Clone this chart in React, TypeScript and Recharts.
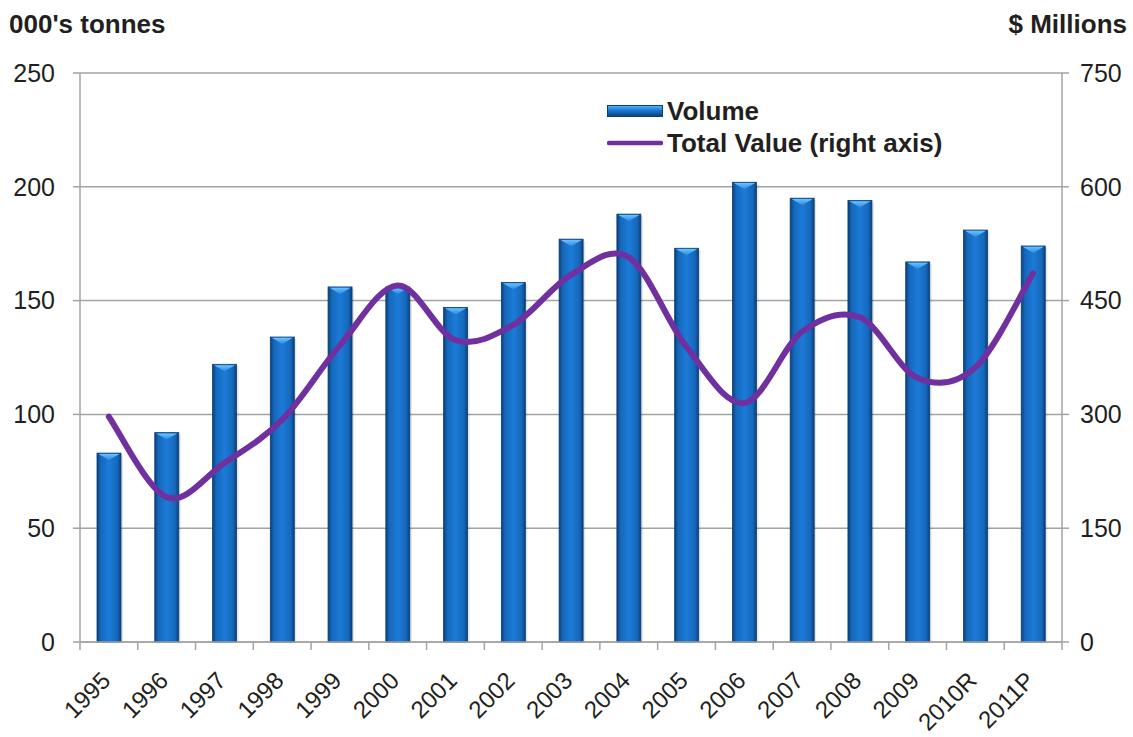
import React from 'react';
import { Bar, CartesianGrid, ComposedChart, Line, XAxis, YAxis } from 'recharts';

const years = ['1995', '1996', '1997', '1998', '1999', '2000', '2001', '2002', '2003', '2004', '2005', '2006', '2007', '2008', '2009', '2010R', '2011P'];
const volume = [83, 92, 122, 134, 156, 156, 147, 158, 177, 188, 173, 202, 195, 194, 167, 181, 174];
const totalValue = [297, 191, 236, 293, 391, 470, 398, 418, 484, 507, 389, 315, 409, 428, 348, 362, 486];
const leftTicks = [0, 50, 100, 150, 200, 250];
const rightTicks = [0, 150, 300, 450, 600, 750];

const data = years.map((year, i) => ({ year, volume: volume[i], value: totalValue[i] }));

const FONT = '"Liberation Sans", Arial, sans-serif';
const TEXT = '#231f20';
const GRID = '#a3a3a3';
const PURPLE = '#7030a0';

// Excel-like smoothed line (uniform Catmull-Rom through the points)
const excelSmooth = (ctx: any) => {
  let pts: number[][] = [];
  return {
    areaStart() {},
    areaEnd() {},
    lineStart() {
      pts = [];
    },
    point(x: number, y: number) {
      pts.push([+x, +y]);
    },
    lineEnd() {
      if (!pts.length) return;
      ctx.moveTo(pts[0][0], pts[0][1]);
      for (let i = 0; i < pts.length - 1; i++) {
        const p0 = pts[i - 1] ?? pts[i];
        const p1 = pts[i];
        const p2 = pts[i + 1];
        const p3 = pts[i + 2] ?? p2;
        ctx.bezierCurveTo(
          p1[0] + (p2[0] - p0[0]) / 6,
          p1[1] + (p2[1] - p0[1]) / 6,
          p2[0] - (p3[0] - p1[0]) / 6,
          p2[1] - (p3[1] - p1[1]) / 6,
          p2[0],
          p2[1],
        );
      }
    },
  };
};

const BevelBar = (props: any) => {
  const { x, y, width, height } = props;
  if (!height || height <= 0) return null;
  return (
    <g>
      <rect x={x + 2} y={y + 2} width={width} height={height - 2} fill="#000" opacity={0.1} />
      <rect x={x} y={y} width={width} height={height} fill="url(#barBody)" stroke="#0b3f78" strokeWidth={0.8} />
      <polygon
        points={`${x + 1.5},${y + 0.8} ${x + width - 1.5},${y + 0.8} ${x + width / 2},${y + 7}`}
        fill="url(#barTop)"
      />
    </g>
  );
};

const YearTick = (props: any) => {
  const { x, y, payload, index } = props;
  const half = payload.offset ?? 0;
  const ax = y - 8;
  const tx = x + 3;
  const ty = y + 32;
  return (
    <g>
      <line x1={x - half} x2={x - half} y1={ax} y2={ax + 8} stroke={GRID} strokeWidth={1.5} />
      {index === years.length - 1 && (
        <line x1={x + half} x2={x + half} y1={ax} y2={ax + 8} stroke={GRID} strokeWidth={1.5} />
      )}
      <text
        x={tx}
        y={ty}
        textAnchor="end"
        transform={`rotate(-45, ${tx}, ${ty})`}
        fontSize={24}
        fontFamily={FONT}
        fill={TEXT}
      >
        {payload.value}
      </text>
    </g>
  );
};

export default function App() {
  return (
    <div style={{ position: 'absolute', left: 0, top: 0, width: 1133, height: 737, background: '#fff', fontFamily: FONT }}>
      <div style={{ position: 'absolute', left: 9, top: 9, fontSize: 26, fontWeight: 'bold', color: TEXT }}>000's tonnes</div>
      <div style={{ position: 'absolute', right: 6, top: 9, fontSize: 26, fontWeight: 'bold', color: TEXT }}>$ Millions</div>

      <ComposedChart width={1133} height={737} data={data} margin={{ top: 73, right: 0, left: 0, bottom: 0 }}>
        <defs>
          <linearGradient id="barBody" x1="0" y1="0" x2="1" y2="0">
            <stop offset="0%" stopColor="#0a3f78" />
            <stop offset="15%" stopColor="#1568ba" />
            <stop offset="50%" stopColor="#1c7bd8" />
            <stop offset="85%" stopColor="#1568ba" />
            <stop offset="100%" stopColor="#0a3f78" />
          </linearGradient>
          <linearGradient id="barTop" x1="0" y1="0" x2="0" y2="1">
            <stop offset="0%" stopColor="#6cc2ff" />
            <stop offset="100%" stopColor="#2a8ae2" />
          </linearGradient>
        </defs>
        <CartesianGrid yAxisId="left" xAxisId="cat" vertical={false} stroke={GRID} strokeWidth={1.5} />
        <XAxis
          xAxisId="cat"
          dataKey="year"
          interval={0}
          height={95}
          tickSize={8}
          tickMargin={0}
          tickLine={false}
          axisLine={{ stroke: GRID, strokeWidth: 1.5 }}
          tick={<YearTick />}
        />
        <YAxis
          yAxisId="left"
          orientation="left"
          width={80}
          domain={[0, 250]}
          ticks={leftTicks}
          interval={0}
          tickSize={7}
          tickMargin={18}
          axisLine={{ stroke: GRID, strokeWidth: 1.5 }}
          tickLine={{ stroke: GRID, strokeWidth: 1.5 }}
          tick={{ fontSize: 25, fill: TEXT, fontFamily: FONT }}
        />
        <YAxis
          yAxisId="right"
          orientation="right"
          width={71}
          domain={[0, 750]}
          ticks={rightTicks}
          interval={0}
          tickSize={7}
          tickMargin={11}
          axisLine={{ stroke: GRID, strokeWidth: 1.5 }}
          tickLine={{ stroke: GRID, strokeWidth: 1.5 }}
          tick={{ fontSize: 25, fill: TEXT, fontFamily: FONT }}
        />
        <Bar
          xAxisId="cat"
          yAxisId="left"
          dataKey="volume"
          barSize={24}
          shape={<BevelBar />}
          isAnimationActive={false}
        />
        <Line
          xAxisId="cat"
          yAxisId="right"
          dataKey="value"
          type={excelSmooth as any}
          stroke={PURPLE}
          strokeWidth={6}
          strokeLinecap="round"
          dot={false}
          activeDot={false}
          isAnimationActive={false}
        />
      </ComposedChart>

      <div style={{ position: 'absolute', left: 607, top: 95, fontSize: 26, fontWeight: 'bold', color: TEXT, lineHeight: '32px' }}>
        <div style={{ display: 'flex', alignItems: 'center' }}>
          <svg width={56} height={12} style={{ marginRight: 4 }}>
            <defs>
              <linearGradient id="legBar" x1="0" y1="0" x2="0" y2="1">
                <stop offset="0%" stopColor="#5ab6fb" />
                <stop offset="45%" stopColor="#1a79d4" />
                <stop offset="100%" stopColor="#0a3f78" />
              </linearGradient>
            </defs>
            <rect x={0.5} y={0.5} width={55} height={11} fill="url(#legBar)" stroke="#0b3f78" strokeWidth={1} />
          </svg>
          <span>Volume</span>
        </div>
        <div style={{ display: 'flex', alignItems: 'center' }}>
          <svg width={56} height={12} style={{ marginRight: 4 }}>
            <line x1={2} x2={54} y1={6} y2={6} stroke={PURPLE} strokeWidth={4.5} strokeLinecap="round" />
          </svg>
          <span>Total Value (right axis)</span>
        </div>
      </div>
    </div>
  );
}
